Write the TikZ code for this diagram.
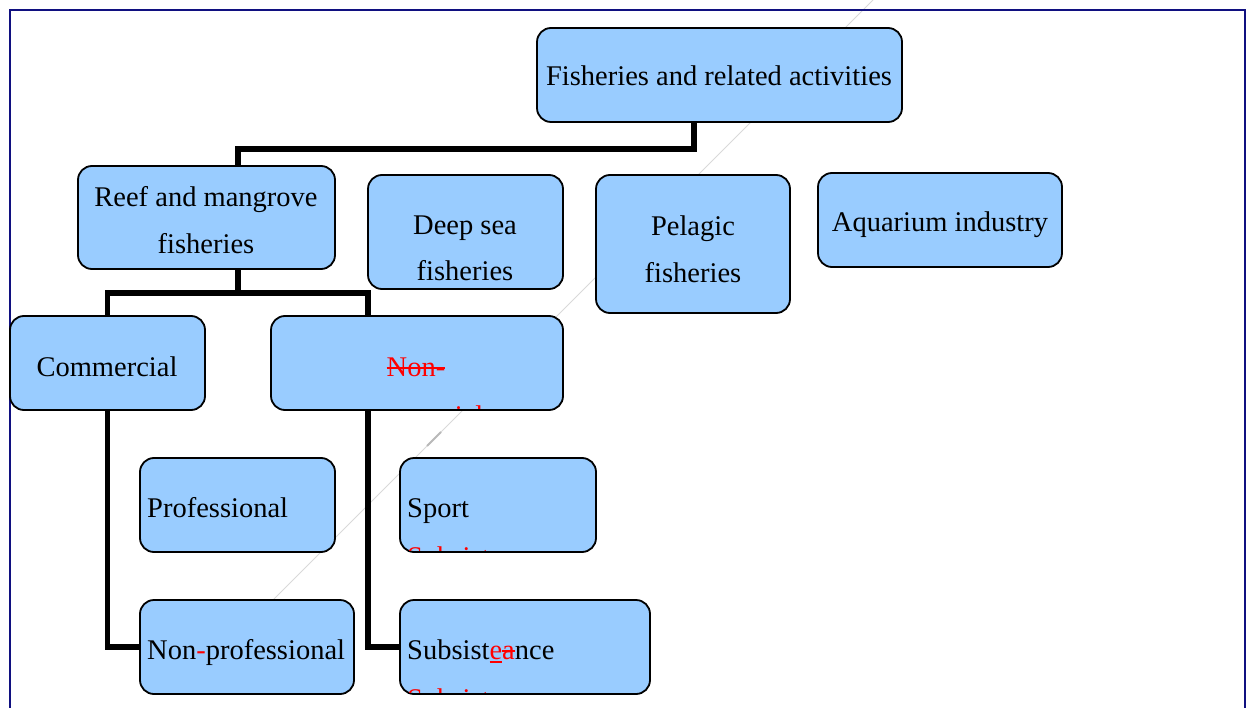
\documentclass[tikz,border=0pt]{standalone}
\usepackage{fontspec}
\setmainfont{Liberation Serif}
\usetikzlibrary{backgrounds}
\definecolor{boxblue}{RGB}{153,204,255}
\definecolor{framenavy}{RGB}{16,16,128}
\definecolor{edit}{RGB}{255,0,0}
% tracked-change marks: struck-through and underlined text
\newcommand\chgstrike[1]{\setbox0=\hbox{#1}\rlap{\copy0}\rule[0.24em]{\wd0}{0.07em}}
\newcommand\chgunder[1]{\setbox0=\hbox{#1}\rlap{\copy0}\rule[-0.13em]{\wd0}{0.07em}}
\begin{document}
\begin{tikzpicture}[x=1pt,y=-1pt,
  box/.style={draw=black, line width=1.8pt, fill=boxblue, rounded corners=14pt, inner sep=0pt},
  txt/.style={inner sep=0pt, anchor=base, font=\fontsize{28.5}{34}\selectfont},
  ltxt/.style={txt, anchor=base west},
  conn/.style={draw=black, line width=5.5pt},
  redtxt/.style={txt, text=edit}
]
\useasboundingbox (0,0) rectangle (1246,708);

% boxes
\node[box, minimum width=365pt, minimum height=94pt]  (top)     at (719.5,75)  {};
\node[box, minimum width=257pt, minimum height=103pt] (reef)    at (206.5,217.5) {};
\node[box, minimum width=195pt, minimum height=114pt] (deep)    at (465.5,232) {};
\node[box, minimum width=194pt, minimum height=138pt] (pelagic) at (693,244)   {};
\node[box, minimum width=244pt, minimum height=94pt]  (aqua)    at (940,220)   {};
\node[box, minimum width=195pt, minimum height=94pt]  (comm)    at (107.5,363) {};
\node[box, minimum width=292pt, minimum height=94pt]  (noncomm) at (417,363)   {};
\node[box, minimum width=195pt, minimum height=94pt]  (prof)    at (237.5,505) {};
\node[box, minimum width=196pt, minimum height=94pt]  (sport)   at (498,505)   {};
\node[box, minimum width=214pt, minimum height=94pt]  (nonprof) at (247,647)   {};
\node[box, minimum width=250pt, minimum height=94pt]  (subs)    at (525,647)   {};

\begin{scope}[on background layer]
  % faint diagonal hairline behind the chart
  \coordinate (d1) at (873,0);
  \coordinate (d2) at (271,602);
  \draw[gray!30, line width=0.9pt] (d1) -- (d2);
  \draw[gray!55, line width=2pt] (441,432) -- (427,446);
  % page frame
  \draw[framenavy, line width=2pt] (10,708) -- (10,10) -- (1245,10) -- (1245,708);
  % connectors
  \draw[conn] ([xshift=-25.5pt]top.south) -- ++(0,26) -| ([xshift=31.5pt]reef.north);
  \draw[conn] ([xshift=31.5pt]reef.south) -- ++(0,23) coordinate (j);
  \draw[conn] (comm.north) |- (j) -| ([xshift=-49pt]noncomm.north);
  \draw[conn] (comm.south) |- (nonprof.west);
  \draw[conn] ([xshift=-49pt]noncomm.south) |- (subs.west);
\end{scope}

% labels
\node[txt] (t0) at (719,86) {Fisheries and related activities};
\node[txt] (t1a) at (206,207) {Reef and mangrove};
\node[txt] (t1b) at (206,254) {fisheries};
\node[txt] (t2a) at (465,235) {Deep sea};
\node[txt] (t2b) at (465,281) {fisheries};
\node[txt] (t3a) at (693,236) {Pelagic};
\node[txt] (t3b) at (693,283) {fisheries};
\node[txt] (t4) at (940,232) {Aquarium industry};
\node[txt] (t5) at (107,376) {Commercial};
\node[redtxt] (t6) at (416,376) {\chgstrike{Non-}};
\node[ltxt] (t7) at (147,517) {Professional};
\node[ltxt] (t8) at (407,517) {Sport};
\node[ltxt] (t9) at (147,659) {Non{\color{edit}-}professional};
\node[ltxt] (t10) at (407,659) {Subsist{\color{edit}\chgunder{e}\chgstrike{a}}nce};

% tracked-change text cut off by the box edges
\begin{scope}
  \clip ([shift={(2,-2)}]noncomm.south west) rectangle ([shift={(-2,2)}]noncomm.north east);
  \node[redtxt] (r1) at (416,425) {commercial};
\end{scope}
\begin{scope}
  \clip ([shift={(2,-2)}]sport.south west) rectangle ([shift={(-2,2)}]sport.north east);
  \node[redtxt, anchor=base west] (r2) at (407,566) {Subsistence};
\end{scope}
\begin{scope}
  \clip ([shift={(2,-2)}]subs.south west) rectangle ([shift={(-2,2)}]subs.north east);
  \node[redtxt, anchor=base west] (r3) at (407,708) {Subsistence};
\end{scope}
\end{tikzpicture}
\end{document}
